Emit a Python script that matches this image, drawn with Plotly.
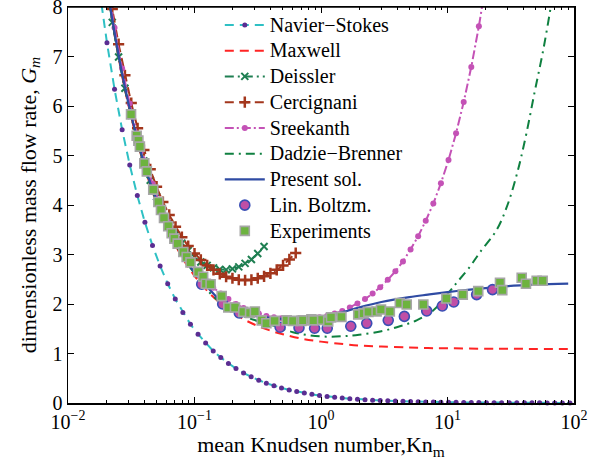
import plotly.graph_objects as go

# ---------------- data ----------------
ns_kn = [0.0177, 0.02032, 0.02333, 0.02679, 0.03076, 0.03532, 0.04055, 0.04656, 0.05346, 0.06138,
         0.07047, 0.08091, 0.0929, 0.1067, 0.1225, 0.1406, 0.1614, 0.1854, 0.2128, 0.2443,
         0.2805, 0.3221, 0.3698, 0.4246, 0.4875, 0.5598, 0.6427, 0.7379, 0.8472, 0.9727,
         1.117, 1.282, 1.472, 1.69, 1.941, 2.228, 2.559, 2.938, 3.373, 3.873,
         4.446, 5.105, 5.861, 6.73, 7.727, 8.872, 10.19, 11.69, 13.43, 15.42,
         17.7, 20.32, 23.33, 26.79, 30.76, 35.32, 40.55, 46.56, 53.46, 61.38,
         70.47, 80.91, 92.9]
ns_g = [8.36, 7.28, 6.34, 5.52, 4.81, 4.19, 3.65, 3.18, 2.77, 2.41,
        2.10, 1.83, 1.59, 1.39, 1.21, 1.05, 0.917, 0.798, 0.695, 0.606,
        0.528, 0.459, 0.400, 0.349, 0.304, 0.264, 0.230, 0.201, 0.175, 0.152,
        0.132, 0.115, 0.101, 0.0876, 0.0762, 0.0664, 0.0578, 0.0504, 0.0439, 0.0382,
        0.0333, 0.0290, 0.0253, 0.0220, 0.0192, 0.0167, 0.0145, 0.0127, 0.0110, 0.0096,
        0.0084, 0.0073, 0.0063, 0.0055, 0.0048, 0.0042, 0.0036, 0.0032, 0.0028, 0.0024,
        0.0021, 0.0018, 0.0016]

maxwell_kn = [0.018, 0.02, 0.025, 0.03, 0.04, 0.05, 0.06, 0.08, 0.1, 0.13, 0.16, 0.2, 0.25, 0.3,
              0.4, 0.5, 0.7, 1, 1.5, 2, 3, 5, 7, 10, 20, 30, 50, 100]
maxwell_g = [9.31, 8.49, 7.01, 6.02, 4.79, 4.05, 3.56, 2.94, 2.57, 2.23, 2.02, 1.83, 1.68, 1.58,
             1.46, 1.39, 1.30, 1.24, 1.19, 1.16, 1.14, 1.12, 1.11, 1.105, 1.097, 1.095, 1.093, 1.092]

deissler_kn = [0.01778, 0.01995, 0.02239, 0.02512, 0.02818, 0.03162, 0.03548, 0.03981, 0.04467,
               0.05012, 0.05623, 0.0631, 0.07079, 0.07943, 0.08913, 0.1, 0.1122, 0.1259, 0.1413,
               0.1585, 0.1778, 0.1995, 0.2239, 0.2512, 0.2818, 0.3162, 0.3548]
deissler_g = [9.38, 8.49, 7.69, 6.99, 6.36, 5.81, 5.32, 4.89, 4.50,
              4.17, 3.88, 3.64, 3.41, 3.23, 3.08, 2.95, 2.85, 2.78, 2.73,
              2.70, 2.69, 2.71, 2.75, 2.82, 2.90, 3.02, 3.16]

cerc_kn = [0.01778, 0.01995, 0.02239, 0.02512, 0.02818, 0.03162, 0.03548, 0.03981, 0.04467,
           0.05012, 0.05623, 0.0631, 0.07079, 0.07943, 0.08913, 0.1, 0.1122, 0.1259, 0.1413,
           0.1585, 0.1778, 0.1995, 0.2239, 0.2512, 0.2818, 0.3162, 0.3548, 0.3981, 0.4467,
           0.5012, 0.5623, 0.631]
cerc_g = [9.66, 8.77, 7.96, 7.25, 6.62, 6.06, 5.55, 5.11, 4.72,
          4.37, 4.06, 3.80, 3.56, 3.35, 3.17, 3.02, 2.89, 2.78, 2.69,
          2.61, 2.55, 2.52, 2.49, 2.48, 2.49, 2.52, 2.56, 2.62, 2.69,
          2.78, 2.90, 3.03]

sreek_kn = ns_kn[:52]
sreek_g = [9.60, 8.52, 7.58, 6.76, 6.05, 5.43, 4.90, 4.43, 4.02, 3.66,
           3.36, 3.09, 2.85, 2.66, 2.48, 2.33, 2.21, 2.10, 2.00, 1.92,
           1.86, 1.81, 1.76, 1.73, 1.71, 1.70, 1.69, 1.70, 1.71, 1.73,
           1.76, 1.81, 1.86, 1.93, 2.01, 2.10, 2.21, 2.34, 2.49, 2.66,
           2.86, 3.10, 3.37, 3.68, 4.03, 4.44, 4.91, 5.45, 6.08, 6.79,
           7.61, 8.55]

db_kn = [0.018, 0.02, 0.025, 0.03, 0.04, 0.05, 0.06, 0.08, 0.1, 0.14, 0.2, 0.26, 0.35, 0.45,
         0.6, 0.8, 1.1, 1.5, 2, 3, 4.2, 5.7, 7.7, 10, 12, 15, 18, 24.5, 30, 36, 42, 49, 57, 65, 70]
db_g = [9.3, 8.5, 7.02, 6.03, 4.81, 4.07, 3.58, 2.97, 2.62, 2.16, 1.87, 1.73, 1.62, 1.54,
        1.43, 1.37, 1.34, 1.35, 1.38, 1.45, 1.55, 1.67, 1.87, 2.2, 2.45, 2.75, 3.04, 3.5, 4.02,
        4.7, 5.44, 6.3, 7.12, 7.95, 8.5]

present_kn = [0.018, 0.02, 0.025, 0.03, 0.04, 0.05, 0.06, 0.08, 0.1, 0.13, 0.16, 0.2, 0.25, 0.3,
              0.4, 0.5, 0.7, 1, 1.5, 2, 3, 5, 7, 10, 15, 20, 30, 50, 90]
present_g = [9.35, 8.53, 7.05, 6.06, 4.83, 4.10, 3.61, 3.00, 2.64, 2.31, 2.07, 1.91, 1.81, 1.76,
             1.72, 1.70, 1.70, 1.74, 1.84, 1.93, 2.04, 2.14, 2.19, 2.24, 2.29, 2.32, 2.36, 2.39, 2.41]

lb_kn = [0.114, 0.167, 0.226, 0.475, 0.67, 0.89, 1.12, 1.72, 2.3, 3.4, 4.56, 6.85, 9.1, 11.2, 17.0, 22.7]
lb_g = [2.40, 2.00, 1.82, 1.53, 1.52, 1.51, 1.51, 1.55, 1.61, 1.67, 1.75, 1.86, 1.96, 2.04, 2.19, 2.29]

exp_kn = [0.0315, 0.0349, 0.036, 0.037, 0.0401, 0.042, 0.0472, 0.0518, 0.0543, 0.0574,
          0.062, 0.066, 0.0693, 0.0736, 0.0816, 0.0867, 0.093, 0.107, 0.117, 0.123,
          0.134, 0.164, 0.185, 0.209, 0.243, 0.275, 0.30, 0.34, 0.37, 0.43,
          0.535, 0.60, 0.70, 0.72, 0.84, 0.87, 1.02, 1.14, 1.2, 1.45,
          1.97, 2.17, 2.37, 2.75, 2.98, 3.5, 4.2, 4.76, 6.44, 9.8,
          13.2, 17.5, 26, 27.1, 38.6, 41.7, 50.7, 56.5]
exp_g = [5.83, 5.40, 5.30, 5.18, 4.84, 4.68, 4.31, 4.06, 3.90, 3.74,
         3.57, 3.43, 3.32, 3.22, 3.05, 2.95, 2.84, 2.65, 2.55, 2.41,
         2.40, 2.16, 1.93, 1.93, 1.84, 1.82, 1.85, 1.67, 1.61, 1.66,
         1.67, 1.66, 1.66, 1.67, 1.69, 1.67, 1.68, 1.65, 1.73, 1.74,
         1.79, 1.81, 1.84, 1.85, 1.89, 1.85, 2.02, 1.99, 1.99, 2.11,
         2.19, 2.26, 2.43, 2.28, 2.53, 2.41, 2.47, 2.47]

series_names = ["Navier\u2212Stokes", "Maxwell", "Deissler", "Cercignani", "Sreekanth",
                "Dadzie\u2212Brenner", "Present sol.", "Lin. Boltzm.", "Experiments"]

x_tickvals = [0.01, 0.1, 1, 10, 100]
x_ticktext = ["10<sup>\u22122</sup>", "10<sup>\u22121</sup>", "10<sup>0</sup>",
              "10<sup>1</sup>", "10<sup>2</sup>"]
y_tickvals = [0, 1, 2, 3, 4, 5, 6, 7, 8]

FONT = "Liberation Serif"


def lname(s):
    return '<span style="font-size:20px">' + s + '</span>'


fig = go.Figure()

fig.add_trace(go.Scatter(
    x=ns_kn, y=ns_g, mode="lines+markers", name=lname(series_names[0]),
    line=dict(color="#2ec0c4", width=2, dash="9px,6px"),
    marker=dict(color="#5b2d92", size=5), cliponaxis=False))
fig.add_trace(go.Scatter(
    x=maxwell_kn, y=maxwell_g, mode="lines", name=lname(series_names[1]), line_shape="spline",
    line=dict(color="#ff2424", width=2, dash="9px,6px")))
fig.add_trace(go.Scatter(
    x=deissler_kn, y=deissler_g, mode="lines+markers", name=lname(series_names[2]),
    line=dict(color="#1f7f52", width=2, dash="9px,4px,2px,4px"),
    marker=dict(color="#1f7f52", size=7, symbol="x-thin", line=dict(color="#1f7f52", width=2))))
fig.add_trace(go.Scatter(
    x=cerc_kn, y=cerc_g, mode="lines+markers", name=lname(series_names[3]),
    line=dict(color="#a3361c", width=2, dash="9px,6px"),
    marker=dict(color="#a3361c", size=8, symbol="cross-thin", line=dict(color="#a3361c", width=2.5))))
fig.add_trace(go.Scatter(
    x=sreek_kn, y=sreek_g, mode="lines+markers", name=lname(series_names[4]),
    line=dict(color="#c452b6", width=2, dash="9px,3px,2px,3px"),
    marker=dict(color="#c452b6", size=6)))
fig.add_trace(go.Scatter(
    x=db_kn, y=db_g, mode="lines", name=lname(series_names[5]), line_shape="spline",
    line=dict(color="#0f8040", width=2, dash="9px,5px,2px,5px")))
fig.add_trace(go.Scatter(
    x=present_kn, y=present_g, mode="lines", name=lname(series_names[6]), line_shape="spline",
    line=dict(color="#2f4ba3", width=2.2)))
fig.add_trace(go.Scatter(
    x=lb_kn, y=lb_g, mode="markers", name=lname(series_names[7]),
    marker=dict(color="#c04fa6", size=10, line=dict(color="#3a4fb5", width=1.6))))
fig.add_trace(go.Scatter(
    x=exp_kn, y=exp_g, mode="markers", name=lname(series_names[8]),
    marker=dict(color="#6db33f", size=9, symbol="square", line=dict(color="#a6a6a6", width=1.6))))

axis_common = dict(
    showline=True, linecolor="black", linewidth=1.5, mirror="ticks",
    ticks="inside", ticklen=6, tickwidth=1, tickcolor="black",
    showgrid=False, zeroline=False, automargin=False,
    tickfont=dict(family=FONT, size=20, color="black"),
)

minor_x = [m * 10 ** e for e in (-2, -1, 0, 1) for m in range(2, 10)]

fig.update_xaxes(
    type="log", range=[-2, 2], tickvals=x_tickvals, ticktext=x_ticktext,
    minor=dict(ticks="inside", ticklen=3, tickcolor="black", tickvals=minor_x, showgrid=False),
    title=dict(text="mean Knudsen number,Kn<sub>m</sub>", font=dict(family=FONT, size=22, color="black"),
               standoff=4),
    **axis_common)
fig.update_yaxes(
    range=[0, 8], tickvals=y_tickvals,
    title=dict(text="dimensionless mass flow rate, <i>G</i><sub><i>m</i></sub>",
               font=dict(family=FONT, size=22, color="black"), standoff=10),
    **axis_common)

# top frame with its own ticks (duplicate of the mirrored x axis)
fig.update_layout(xaxis2=dict(
    type="log", range=[-2, 2], overlaying="x", side="top", anchor="y", matches="x",
    tickvals=x_tickvals, showticklabels=False, showline=True, linecolor="black", linewidth=1.5,
    ticks="inside", ticklen=6, tickcolor="black", showgrid=False, zeroline=False, automargin=False,
    minor=dict(ticks="inside", ticklen=3, tickcolor="black", tickvals=minor_x, showgrid=False)))
fig.add_trace(go.Scatter(x=[1], y=[-1], xaxis="x2", mode="markers", showlegend=False,
                         marker=dict(size=1, color="rgba(0,0,0,0)")))

# explicit top border of the frame
fig.add_shape(type="line", xref="paper", yref="paper", x0=0, x1=1, y0=1, y1=1,
              line=dict(color="black", width=1.5), layer="above")

# the page is shifted up 8px (see post_script) so that the plot top sits at 7px
fig.update_layout(
    width=604, height=480,
    margin=dict(l=68, r=30, t=15, b=69, autoexpand=False),
    paper_bgcolor="white", plot_bgcolor="white",
    font=dict(family=FONT, color="black"),
    hovermode=False,
    legend=dict(x=0.3, y=1.0, xanchor="left", yanchor="top",
                bgcolor="rgba(255,255,255,0)", borderwidth=0,
                font=dict(family=FONT, size=17.5, color="black"),
                itemwidth=40, tracegroupgap=0),
    showlegend=True,
)

fig.write_html("out.html",
               post_script="document.body.style.margin='-8px 0 0 0';document.body.style.overflow='hidden';",
               config={"displayModeBar": False, "staticPlot": True})
